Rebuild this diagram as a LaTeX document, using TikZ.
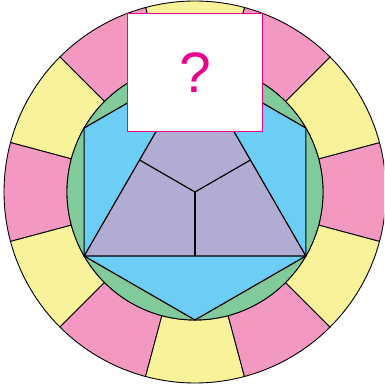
\documentclass[tikz,border=0pt]{standalone}
\usepackage{fontspec}
\setsansfont{Liberation Sans}
\usepackage{tikz}
\usetikzlibrary{positioning, calc}

\definecolor{ringpink}{RGB}{243,153,193}
\definecolor{ringyellow}{RGB}{248,242,155}
\definecolor{discgreen}{RGB}{128,202,156}
\definecolor{hexblue}{RGB}{108,206,244}
\definecolor{kitepurple}{RGB}{176,172,212}
\definecolor{askmagenta}{RGB}{236,0,140}

\tikzset{
  segment/.style={draw=black, line width=0.9pt, line join=round},
  piece/.style={draw=black, line width=1.2pt, line join=round},
  askbox/.style={draw=askmagenta, line width=1.4pt, fill=white,
    minimum width=135pt, minimum height=118pt, inner sep=0pt,
    text=askmagenta, font=\sffamily\fontsize{57}{60}\selectfont}
}

\begin{document}
\begin{tikzpicture}
        \clip (-195pt,-198pt) rectangle (189pt,192pt);

        % ==========================================
        % Outer ring (twelve sectors)
        % ==========================================
        \foreach \k in {0,...,11} {
          \pgfmathsetmacro{\a}{30*\k}
          \ifodd\k \def\segcol{ringyellow}\else \def\segcol{ringpink}\fi
          \draw[segment, fill=\segcol] (\a-15:128pt) -- (\a-15:191pt)
                arc[start angle=\a-15, end angle=\a+15, radius=191pt]
                -- (\a+15:128pt)
                arc[start angle=\a+15, end angle=\a-15, radius=128pt] -- cycle;
        }

        % ==========================================
        % Green disc and hexagon
        % ==========================================
        \draw[segment, fill=discgreen] (0,0) circle[radius=128pt];

        \foreach \name/\ang in {h1/90, h2/150, h3/210, h4/270, h5/330, h6/30}
          \coordinate (\name) at (\ang:128pt);
        \draw[piece, fill=hexblue] (h1) -- (h2) -- (h3) -- (h4) -- (h5) -- (h6) -- cycle;

        % ==========================================
        % Triangle split into three kites
        % ==========================================
        \coordinate (mid) at (0,0);
        \coordinate (mL) at (150:64pt);
        \coordinate (mR) at (30:64pt);
        \coordinate (mB) at (270:64pt);
        \draw[piece, fill=kitepurple] (h1) -- (h3) -- (h5) -- cycle;
        \draw[piece] (mL) -- (mid) -- (mR);
        \draw[piece] (mid) -- (mB);

        % ==========================================
        % Box with the unknown
        % ==========================================
        \node[askbox] (ask) at (0pt,119.5pt) {?};

\end{tikzpicture}
\end{document}
